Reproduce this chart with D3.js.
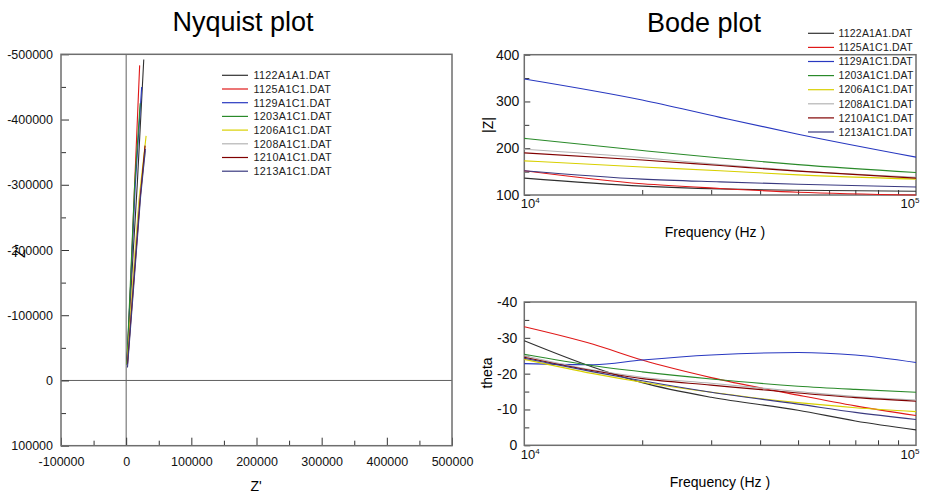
<!DOCTYPE html>
<html>
<head>
<meta charset="utf-8">
<script src="https://cdn.jsdelivr.net/npm/d3@7"></script>
<style>
body{margin:0;background:#fff;}
svg{display:block;font-family:"Liberation Sans",Arial,sans-serif;}
.frame{fill:none;stroke:#6e6e6e;stroke-width:1.5;}
.tick line{stroke:#333;}
.series{fill:none;stroke-width:1.1;}
</style>
</head>
<body>
<div id="chart"></div>
<script>
// file order: 1122,1125,1129,1203,1206,1208,1210,1213
var files = ["1122A1A1.DAT","1125A1C1.DAT","1129A1C1.DAT","1203A1C1.DAT",
             "1206A1C1.DAT","1208A1C1.DAT","1210A1C1.DAT","1213A1C1.DAT"];
var colors = ["#303030","#e01818","#2838c0","#2a8a2a","#d8d000","#b4b4b4","#800000","#3a3a80"];

// Nyquist: Z' and Z'' for each file
var nyqRe = [
  [1000, 8000, 17000, 27000],
  [1500, 7000, 13000, 20700],
  [1000, 7000, 14000, 23800],
  [1000, 6500, 13000, 21500],
  [1500, 10000, 20000, 30600],
  [2000, 11000, 21000, 29500],
  [2000, 11500, 21500, 29000],
  [2000, 12000, 22000, 29500]
];
var nyqIm = [
  [-25000, -150000, -300000, -492000],
  [-30000, -150000, -300000, -483000],
  [-25000, -150000, -300000, -450000],
  [-25000, -150000, -300000, -425000],
  [-25000, -150000, -280000, -375000],
  [-25000, -150000, -280000, -352000],
  [-25000, -150000, -280000, -360000],
  [-20000, -150000, -280000, -355000]
];

// Bode |Z|
var magFreq = [1e4, 2e4, 3.16e4, 5e4, 1e5];
var magVals = [
  [136, 119, 113, 110, 108],
  [152, 124, 114, 106, 100],
  [348, 303, 266, 230, 181],
  [221, 195, 179, 165, 148],
  [173, 160, 152, 143, 134],
  [198, 180, 165, 152, 138],
  [190, 175, 163, 151, 136],
  [152, 134, 128, 123, 117]
];

// Bode theta
var phaseFreq = [1e4, 1.5e4, 2e4, 3e4, 5e4, 7e4, 1e5];
var phaseVals = [
  [-29.2, -21.8, -17.5, -13.4, -9.8, -6.8, -4.3],
  [-33.1, -28.2, -23.8, -18.9, -14.0, -11.0, -8.3],
  [-22.8, -22.5, -23.8, -25.2, -25.9, -25.2, -23.1],
  [-25.4, -22.2, -20.5, -18.5, -16.5, -15.6, -14.8],
  [-24.0, -20.0, -17.6, -14.8, -11.9, -10.5, -9.4],
  [-25.0, -21.0, -19.0, -17.3, -15.0, -13.6, -12.6],
  [-24.6, -20.8, -18.6, -16.8, -14.6, -13.3, -12.3],
  [-24.3, -20.5, -18.0, -14.8, -11.5, -9.2, -7.2]
];

var nyqXTicks = [-100000, 0, 100000, 200000, 300000, 400000, 500000];
var nyqYTicks = [100000, 0, -100000, -200000, -300000, -400000, -500000];
var magTicks = [100, 200, 300, 400];
var phaseTicks = [0, -10, -20, -30, -40];
var freqMinor = [2e4, 3e4, 4e4, 5e4, 6e4, 7e4, 8e4, 9e4];

var svg = d3.select("#chart").append("svg")
    .attr("width", 926).attr("height", 495);

function styleAxis(g, size) {
  g.attr("font-family", null).attr("font-size", size);
  g.select(".domain").remove();
  g.selectAll("text").attr("fill", "#111");
}

// ---------- Nyquist ----------
var nx = d3.scaleLinear().domain([-100000, 500000]).range([61, 452]);
var ny = d3.scaleLinear().domain([100000, -500000]).range([445.7, 54.3]);

svg.append("text").attr("x", 243).attr("y", 31).attr("text-anchor", "middle")
  .attr("font-size", 27).text("Nyquist plot");

svg.append("line").attr("x1", nx(0)).attr("x2", nx(0)).attr("y1", ny(100000)).attr("y2", ny(-500000))
  .attr("stroke", "#606060");
svg.append("line").attr("x1", nx(-100000)).attr("x2", nx(500000)).attr("y1", ny(0)).attr("y2", ny(0))
  .attr("stroke", "#606060");

var nxMinor = nyqXTicks.slice(0, -1).map(function(d){ return d + 50000; });
var nyMinor = nyqYTicks.slice(0, -1).map(function(d){ return d - 50000; });

svg.append("g").attr("transform", "translate(0,445.7)")
  .call(d3.axisBottom(nx).tickValues(nyqXTicks).tickSize(-8).tickPadding(11)
    .tickFormat(function(d){ return String(d); }))
  .call(styleAxis, 12.5);
svg.append("g").attr("transform", "translate(0,445.7)")
  .call(d3.axisBottom(nx).tickValues(nxMinor).tickSize(-5).tickFormat(""))
  .call(styleAxis, 12.5);
svg.append("g").attr("transform", "translate(61,0)")
  .call(d3.axisLeft(ny).tickValues(nyqYTicks).tickSize(-8).tickPadding(8)
    .tickFormat(function(d){ return String(d); }))
  .call(styleAxis, 12.5);
svg.append("g").attr("transform", "translate(61,0)")
  .call(d3.axisLeft(ny).tickValues(nyMinor).tickSize(-5).tickFormat(""))
  .call(styleAxis, 12.5);

svg.append("rect").attr("class", "frame")
  .attr("x", nx(-100000)).attr("y", ny(-500000))
  .attr("width", nx(500000) - nx(-100000)).attr("height", ny(100000) - ny(-500000));

var nyqLine = d3.line().x(function(d){ return nx(d[0]); }).y(function(d){ return ny(d[1]); });
files.forEach(function(f, i) {
  svg.append("path").attr("class", "series")
    .attr("stroke", colors[i])
    .attr("d", nyqLine(d3.zip(nyqRe[i], nyqIm[i])));
});

svg.append("text").attr("x", 256).attr("y", 491).attr("text-anchor", "middle")
  .attr("font-size", 14).text("Z'");
svg.append("text").attr("transform", "translate(25,251) rotate(-90)").attr("text-anchor", "middle")
  .attr("font-size", 14).text("Z''");

var nyLegend = svg.append("g");
files.forEach(function(f, i) {
  var y = 75.3 + i * 13.7;
  nyLegend.append("line").attr("x1", 222).attr("x2", 248).attr("y1", y).attr("y2", y)
    .attr("stroke", colors[i]).attr("stroke-width", 1.2);
  nyLegend.append("text").attr("x", 253.5).attr("y", y).attr("dy", "0.36em")
    .attr("font-size", 10.8).attr("letter-spacing", 0.3).attr("fill", "#222").text(f);
});

// ---------- Bode ----------
var bx = d3.scaleLog().domain([1e4, 1e5]).range([524.3, 916]);
var my = d3.scaleLinear().domain([100, 400]).range([195, 54.7]);
var py = d3.scaleLinear().domain([0, -40]).range([445.3, 302]);

svg.append("text").attr("x", 704).attr("y", 32).attr("text-anchor", "middle")
  .attr("font-size", 27).text("Bode plot");

function freqAxis(y0) {
  var g = svg.append("g").attr("transform", "translate(0," + y0 + ")")
    .call(d3.axisBottom(bx).tickValues([1e4, 1e5]).tickSize(0).tickPadding(4).tickFormat(""))
    .call(styleAxis, 13);
  g.selectAll(".tick text").each(function(d, i) {
    var t = d3.select(this).text("10");
    t.append("tspan").attr("dy", "-5").attr("font-size", 8).text(Math.round(Math.log10(d)));
    if (i === 0) t.attr("text-anchor", "start").attr("x", -4);
    else t.attr("text-anchor", "end").attr("x", 3);
  });
  svg.append("g").attr("transform", "translate(0," + y0 + ")")
    .call(d3.axisBottom(bx).tickValues(freqMinor).tickSize(-5).tickFormat(""))
    .call(styleAxis, 13);
}

// |Z| panel
svg.append("g").attr("transform", "translate(524.3,0)")
  .call(d3.axisLeft(my).tickValues(magTicks).tickSize(-6).tickPadding(5)
    .tickFormat(function(d){ return String(d); }))
  .call(styleAxis, 14);
svg.append("g").attr("transform", "translate(524.3,0)")
  .call(d3.axisLeft(my).tickValues([150, 250, 350]).tickSize(-5).tickFormat(""))
  .call(styleAxis, 14);
freqAxis(195);
svg.append("rect").attr("class", "frame")
  .attr("x", bx(1e4)).attr("y", my(400))
  .attr("width", bx(1e5) - bx(1e4)).attr("height", my(100) - my(400));

var magLine = d3.line().curve(d3.curveMonotoneX)
  .x(function(d){ return bx(d[0]); }).y(function(d){ return my(d[1]); });
files.forEach(function(f, i) {
  svg.append("path").attr("class", "series").attr("stroke", colors[i])
    .attr("d", magLine(d3.zip(magFreq, magVals[i])));
});

svg.append("text").attr("x", 715).attr("y", 237).attr("text-anchor", "middle")
  .attr("font-size", 14).text("Frequency (Hz )");
svg.append("text").attr("transform", "translate(493,125) rotate(-90)").attr("text-anchor", "middle")
  .attr("font-size", 14).text("|Z|");

var bdLegend = svg.append("g");
files.forEach(function(f, i) {
  var y = 33.3 + i * 14.1;
  bdLegend.append("line").attr("x1", 808).attr("x2", 834).attr("y1", y).attr("y2", y)
    .attr("stroke", colors[i]).attr("stroke-width", 1.2);
  bdLegend.append("text").attr("x", 838.5).attr("y", y).attr("dy", "0.36em")
    .attr("font-size", 10.5).attr("letter-spacing", 0.2).attr("fill", "#222").text(f);
});

// theta panel
svg.append("g").attr("transform", "translate(524.3,0)")
  .call(d3.axisLeft(py).tickValues(phaseTicks).tickSize(-6).tickPadding(7)
    .tickFormat(function(d){ return String(d); }))
  .call(styleAxis, 14);
svg.append("g").attr("transform", "translate(524.3,0)")
  .call(d3.axisLeft(py).tickValues([-5, -15, -25, -35]).tickSize(-5).tickFormat(""))
  .call(styleAxis, 14);
freqAxis(445.3);
svg.append("rect").attr("class", "frame")
  .attr("x", bx(1e4)).attr("y", py(-40))
  .attr("width", bx(1e5) - bx(1e4)).attr("height", py(0) - py(-40));

var phaseLine = d3.line().curve(d3.curveMonotoneX)
  .x(function(d){ return bx(d[0]); }).y(function(d){ return py(d[1]); });
files.forEach(function(f, i) {
  svg.append("path").attr("class", "series").attr("stroke", colors[i])
    .attr("d", phaseLine(d3.zip(phaseFreq, phaseVals[i])));
});

svg.append("text").attr("x", 720).attr("y", 487).attr("text-anchor", "middle")
  .attr("font-size", 14).text("Frequency (Hz )");
svg.append("text").attr("transform", "translate(492,373) rotate(-90)").attr("text-anchor", "middle")
  .attr("font-size", 14).text("theta");
</script>
</body>
</html>
